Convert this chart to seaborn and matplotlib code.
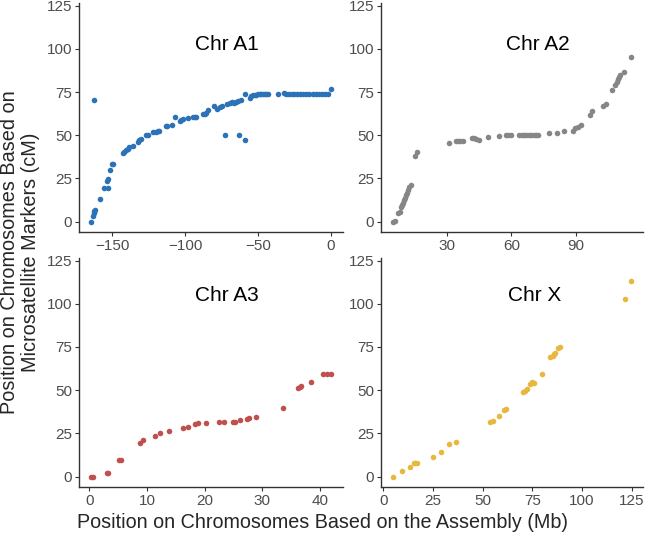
import numpy as np
import pandas as pd
import matplotlib
matplotlib.use('Agg')
import matplotlib.pyplot as plt
import seaborn as sns

# marker positions: assembly (Mb) vs linkage map (cM)
a1_mb = [-164.7, -163.5, -162.8, -162.4, -162.0, -162.8, -158.5, -156.0, -153.2, -153.7, -153.3,
         -151.6, -150.2, -149.3, -142.9, -141.8, -140.6, -139.4, -138.3, -136.0, -132.6, -131.4,
         -130.3, -126.8, -125.7, -121.8, -120.4, -118.8, -117.7, -113.5, -112.2, -109.4, -107.3,
         -103.9, -102.8, -101.6, -98.2, -94.7, -93.6, -92.5, -87.8, -86.7, -85.6, -84.4, -80.5,
         -78.2, -76.4, -74.8, -72.9, -71.3, -69.5, -67.9, -66.5, -64.9, -63.5, -61.9, -63.3,
         -58.7, -58.7, -55.7, -54.6, -53.4, -52.3, -51.1, -50.0, -48.9, -47.8, -46.6, -45.5,
         -44.4, -43.3, -36.2, -32.3, -31.0, -29.0, -27.0, -25.0, -23.0, -21.0, -19.0, -17.0,
         -15.0, -12.5, -10.2, -8.0, -6.0, -4.0, -2.0, 0.0]
a1_cm = [0.0, 3.3, 4.8, 6.2, 6.7, 70.2, 13.1, 19.2, 19.2, 23.5, 24.4,
         29.6, 33.1, 33.1, 39.8, 40.4, 41.3, 42.3, 43.3, 43.8, 46.2, 47.1,
         48.1, 50.0, 50.0, 51.9, 51.9, 52.3, 52.5, 55.2, 55.2, 55.8, 60.6,
         58.3, 59.0, 59.6, 60.2, 60.6, 60.6, 60.6, 62.3, 62.5, 63.1, 64.4, 66.9,
         65.4, 66.3, 66.7, 50.0, 68.3, 68.8, 69.2, 68.7, 69.2, 69.6, 70.2, 50.0,
         47.5, 73.7, 71.7, 72.7, 73.1, 73.1, 73.5, 73.7, 74.0, 74.0, 74.0, 74.0,
         74.0, 74.0, 74.0, 74.4, 74.0, 74.0, 74.0, 74.0, 74.0, 74.0, 74.0, 74.0,
         74.0, 74.0, 74.0, 74.0, 74.0, 74.0, 74.0, 76.9]

a2_mb = [5.0, 5.8, 7.3, 8.4, 8.9, 9.3, 9.6, 10.1, 10.4, 10.9, 11.5, 11.9, 12.7, 13.5,
         15.3, 16.1, 31.2, 34.1, 35.2, 36.4, 37.7, 41.8, 42.9, 43.8, 44.9, 49.4, 54.5,
         57.6, 58.6, 59.7, 63.7, 64.8, 65.8, 67.0, 68.1, 69.3, 70.4, 71.5, 72.4, 77.5,
         81.1, 84.7, 88.8, 89.7, 90.8, 92.6, 96.6, 97.7, 102.6, 103.8, 106.9, 108.4,
         109.2, 109.6, 110.2, 110.7, 112.2, 115.6]
a2_cm = [0.0, 0.6, 4.8, 5.4, 8.3, 9.6, 11.0, 12.5, 13.5, 15.4, 16.7, 18.3, 19.8, 21.2,
         38.1, 40.4, 45.6, 46.7, 46.7, 46.7, 46.7, 48.5, 48.5, 48.1, 47.5, 48.7, 49.4,
         50.4, 50.4, 50.4, 50.0, 50.0, 50.0, 50.0, 50.0, 50.0, 50.0, 50.0, 50.0, 51.0,
         51.5, 52.5, 52.5, 54.2, 54.8, 55.8, 61.9, 63.8, 66.7, 68.3, 76.0, 78.8,
         80.8, 82.3, 83.7, 84.6, 86.5, 95.2]

a3_mb = [0.3, 0.6, 3.0, 3.3, 5.2, 5.5, 8.8, 9.4, 11.4, 12.3, 13.8, 16.2, 17.2, 18.3, 18.8,
         20.3, 22.5, 23.4, 24.9, 25.3, 26.1, 27.3, 27.7, 29.0, 33.6, 36.2, 36.5, 36.8,
         38.4, 40.6, 41.3, 41.9]
a3_cm = [0.0, 0.0, 2.3, 2.3, 9.6, 9.6, 19.3, 21.2, 23.5, 25.1, 26.4, 28.4, 28.5, 30.3, 30.9,
         30.9, 31.4, 31.8, 31.8, 31.4, 32.8, 33.2, 33.8, 34.7, 39.5, 51.1, 52.1, 52.5,
         55.0, 59.2, 59.2, 59.2]

x_mb = [4.8, 9.3, 13.5, 15.2, 16.0, 16.8, 24.8, 29.0, 33.0, 36.5, 53.8, 55.2, 58.0, 60.7,
        61.8, 70.5, 71.5, 72.3, 74.0, 74.8, 76.0, 79.8, 84.0, 85.2, 86.0, 86.5, 88.0,
        88.8, 121.8, 124.7]
x_cm = [0.0, 3.5, 5.4, 7.7, 8.1, 8.1, 11.6, 14.1, 18.7, 20.3, 31.8, 32.4, 35.1, 38.6,
        39.0, 49.2, 49.8, 50.5, 53.4, 54.6, 54.4, 59.4, 69.0, 69.8, 71.0, 71.4, 74.3,
        74.9, 102.6, 113.2]

chroms = ['Chr A1', 'Chr A2', 'Chr A3', 'Chr X']
colors = ['#2b72b8', '#868686', '#c0504d', '#e8b83e']
xticks = [[-150, -100, -50, 0], [30, 60, 90], [0, 10, 20, 30, 40], [0, 25, 50, 75, 100, 125]]

sns.set_style('white')
plt.rcParams['font.family'] = ['Liberation Sans', 'DejaVu Sans']

fig = plt.figure(figsize=(6.45, 5.44), dpi=100)
boxes = [[0.1225, 0.5735, 0.409, 0.421],
         [0.5907, 0.5735, 0.406, 0.421],
         [0.1225, 0.1048, 0.409, 0.421],
         [0.5907, 0.1048, 0.406, 0.421]]
data = [(a1_mb, a1_cm), (a2_mb, a2_cm), (a3_mb, a3_cm), (x_mb, x_cm)]

for i, (mb, cm) in enumerate(data):
    ax = fig.add_axes(boxes[i])
    df = pd.DataFrame({'mb': mb, 'cm': cm})
    sns.scatterplot(data=df, x='mb', y='cm', ax=ax, color=colors[i], s=16,
                    linewidth=0, legend=False)
    ax.margins(x=0.05)
    ax.set_ylim(-6, 126.5)
    ax.set_yticks([0, 25, 50, 75, 100, 125])
    ax.set_xticks(xticks[i])
    ax.set_xlabel('')
    ax.set_ylabel('')
    for side in ['top', 'right']:
        ax.spines[side].set_visible(False)
    for side in ['left', 'bottom']:
        ax.spines[side].set_color('#333333')
        ax.spines[side].set_linewidth(1.0)
    ax.tick_params(axis='both', length=3, width=0.8, color='#333333',
                   labelsize=11, labelcolor='#4d4d4d', pad=2, bottom=True, left=True)
    ty = 0.82 if i < 2 else 0.835
    tx = [0.56, 0.60, 0.56, 0.585][i]
    ax.text(tx, ty, chroms[i], transform=ax.transAxes, ha='center', va='center',
            fontsize=15, color='black')

fig.text(0.031, 0.537, 'Position on Chromosomes Based on\nMicrosatellite Markers (cM)',
         rotation=90, ha='center', va='center', fontsize=14.3, linespacing=1.1)
fig.text(0.5, 0.04, 'Position on Chromosomes Based on the Assembly (Mb)',
         ha='center', va='center', fontsize=14.2)

fig.savefig('out.png', dpi=100)
